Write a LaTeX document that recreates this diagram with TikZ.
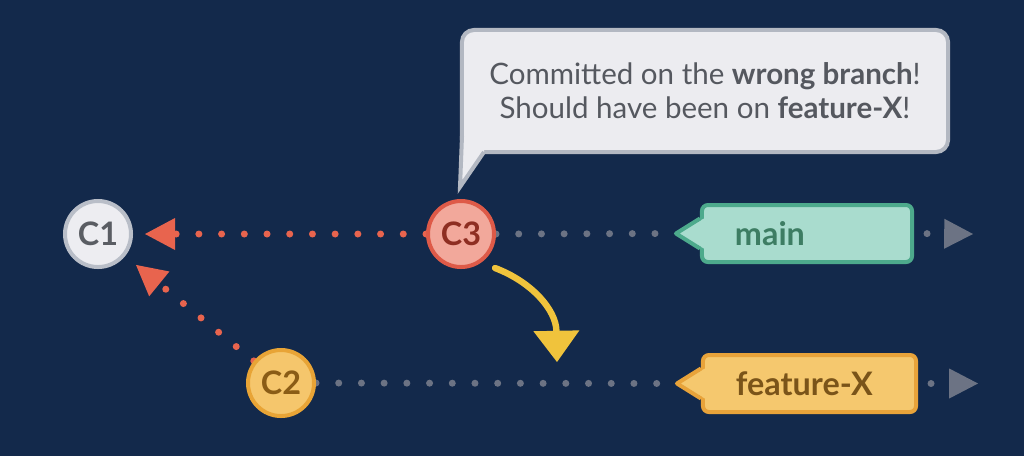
\documentclass[tikz,border=0pt]{standalone}
\usepackage{fontspec}
\setmainfont{Lato}
\usetikzlibrary{arrows.meta,calc,backgrounds}
\definecolor{bg}{HTML}{13294B}
\definecolor{cAfill}{HTML}{EDEDF1}\definecolor{cAline}{HTML}{B9BEC8}\definecolor{cAtext}{HTML}{5A5D63}
\definecolor{cCfill}{HTML}{F2A89B}\definecolor{cCline}{HTML}{DE5A48}\definecolor{cCtext}{HTML}{8E2E22}
\definecolor{cBfill}{HTML}{F5C66C}\definecolor{cBline}{HTML}{E8A436}\definecolor{cBtext}{HTML}{8A5C16}
\definecolor{redc}{HTML}{E8644E}
\definecolor{grayc}{HTML}{6C7384}
\definecolor{grayt}{HTML}{6E737D}
\definecolor{mfill}{HTML}{A9DCCE}\definecolor{mline}{HTML}{4DAA8C}\definecolor{mtext}{HTML}{3D7D63}
\definecolor{ffill}{HTML}{F5C86E}\definecolor{fline}{HTML}{E8A33A}\definecolor{ftext}{HTML}{7A5419}
\definecolor{bfill}{HTML}{ECECF0}\definecolor{bline}{HTML}{B3B8C2}\definecolor{btext}{HTML}{55585F}
\definecolor{yel}{HTML}{F0C33C}
\tikzset{
  commit/.style={circle, minimum size=1.65cm, inner sep=0pt, line width=0.1cm,
    font=\fontsize{23}{23}\selectfont\bfseries},
  tagbox/.style={rectangle, rounded corners=0.15cm, line width=0.1cm, minimum height=1.425cm,
    inner ysep=0pt, inner xsep=0.825cm, align=left, font=\fontsize{23}{23}\selectfont\bfseries},
  dots/.style={line width=0.175cm, line cap=round, dash pattern=on 0pt off 16.15pt},
  redtip/.style={-{Triangle[length=0.75cm,width=0.8cm,line width=0pt]}},
  graytip/.style={-{Triangle[length=0.72cm,width=0.75cm,line width=0pt]}},
}
\begin{document}
\begin{tikzpicture}[x=0.025cm,y=-0.025cm]
\useasboundingbox (0,0) rectangle (1024,456);
% commits
\node[commit, fill=cAfill, draw=cAline, text=cAtext] (C1) at (98,234) {C1};
\node[commit, fill=cCfill, draw=cCline, text=cCtext] (C3) at (461,234) {C3};
\node[commit, fill=cBfill, draw=cBline, text=cBtext] (C2) at (281,383) {C2};
% tags
\node[tagbox, fill=mfill, draw=mline, text=mtext, text width=3.6cm] (main) at (807,233.5) {main};
\node[tagbox, fill=ffill, draw=fline, text=ftext, text width=3.675cm] (feat) at (809.5,383.5) {feature-X};
\coordinate (mainptr) at ($(main.west)+(-24,0)$);
\coordinate (featptr) at ($(feat.west)+(-24,0)$);
\fill[mfill] ($(main.west)+(4,-15)$) -- (mainptr) -- ($(main.west)+(4,15)$) -- cycle;
\draw[mline, line width=0.1cm, line join=round] ($(main.west)+(0,-15)$) -- (mainptr) -- ($(main.west)+(0,15)$);
\fill[ffill] ($(feat.west)+(4,-15)$) -- (featptr) -- ($(feat.west)+(4,15)$) -- cycle;
\draw[fline, line width=0.1cm, line join=round] ($(feat.west)+(0,-15)$) -- (featptr) -- ($(feat.west)+(0,15)$);
\coordinate (mainend) at (973,234);
\coordinate (featend) at (978,383.5);
% speech bubble
\node[rectangle, rounded corners=0.3cm, fill=bfill, draw=bline, line width=0.1cm,
  minimum width=12.15cm, minimum height=3.05cm, align=center, text=btext,
  font=\fontsize{21}{24.2}\selectfont] (bub) at (705,91)
  {Committed on the \textbf{wrong branch}!\\Should have been on \textbf{feature-X}!};
\coordinate (tailtip) at (460,187);
\fill[bfill] (462,136) -- (tailtip) -- (484,152) -- (484,136) -- cycle;
\draw[bline, line width=0.1cm, line join=miter] (462,136) -- (tailtip) -- (484,152);
% yellow arrow
\coordinate (ys) at (495,268);
\coordinate (ye) at (557,362);
\draw[yel, line width=0.16cm, line cap=round, -{Triangle[length=0.78cm,width=1.15cm,line width=0pt]}]
  (ys) .. controls (532,282) and (556,310) .. (ye);
% connectors
\begin{scope}[on background layer]
\fill[bg] (0,0) rectangle (1024,456);
\draw[dots, redc, redtip, shorten >=0.3cm] (C3.west) -- (C1.east);
\draw[dots, redc, redtip, shorten >=0.35cm] (C2) -- (C1);
\draw[dots, grayc] (C3.east) -- (mainptr);
\draw[dots, grayc] (C2.east) -- (featptr);
\draw[dots, grayc, graytip, shorten <=0.325cm] (main.east) -- (mainend);
\draw[dots, grayc, graytip, shorten <=0.325cm] (feat.east) -- (featend);
\end{scope}
\end{tikzpicture}
\end{document}
